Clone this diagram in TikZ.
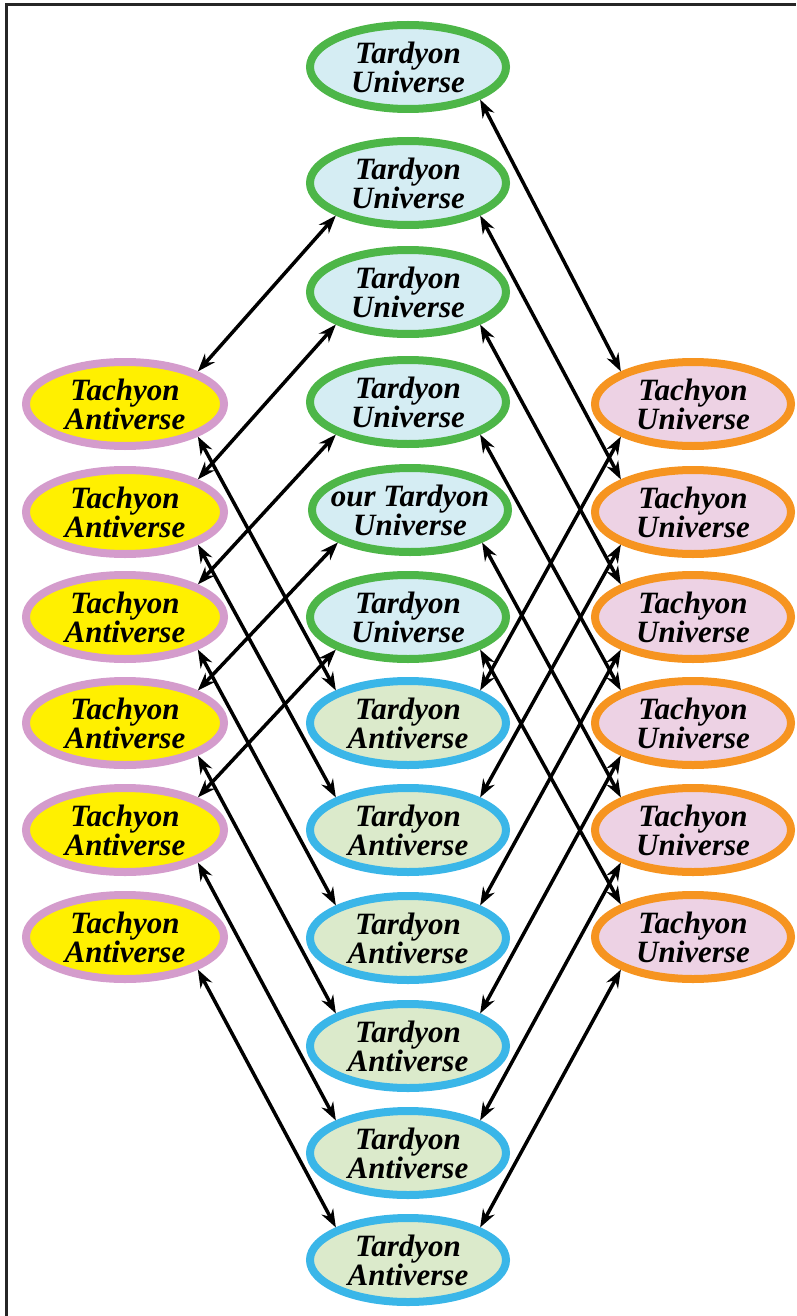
\documentclass[tikz,border=0pt]{standalone}
\usepackage{fontspec}
\setmainfont{Liberation Serif}
\usetikzlibrary{shapes.geometric,arrows.meta}
\definecolor{tgreen}{RGB}{77,182,72}
\definecolor{tlblue}{RGB}{213,237,243}
\definecolor{tblue}{RGB}{58,182,232}
\definecolor{tlgreen}{RGB}{219,234,203}
\definecolor{tpink}{RGB}{212,156,204}
\definecolor{tyellow}{RGB}{255,240,0}
\definecolor{torange}{RGB}{246,148,32}
\definecolor{tlpink}{RGB}{237,210,228}
\tikzset{
  uni/.style={ellipse, line width=8pt, inner sep=0pt, minimum width=196pt, minimum height=84pt,
    align=center, font=\fontsize{31}{26.5}\selectfont\bfseries\itshape},
  tardu/.style={uni, draw=tgreen, fill=tlblue},
  tarda/.style={uni, draw=tblue, fill=tlgreen},
  tacha/.style={uni, draw=tpink, fill=tyellow, minimum width=198pt},
  tachu/.style={uni, draw=torange, fill=tlpink, minimum width=196pt},
  link/.style={line width=3.5pt, {Stealth[length=18pt,width=13pt]}-{Stealth[length=18pt,width=13pt]}},
  frameline/.style={line width=3pt, draw=black!85}
}
\begin{document}
\begin{tikzpicture}[x=1pt,y=1pt]
\useasboundingbox (0,0) rectangle (796,-1316);
\draw[frameline] (6,-1316) -- (6,-5) -- (796,-5);
% centre column
\node[tardu] (c1) at (408,-67) {Tardyon\\Universe};
\node[tardu] (c2) at (408,-183) {Tardyon\\Universe};
\node[tardu] (c3) at (408,-292) {Tardyon\\Universe};
\node[tardu] (c4) at (408,-402) {Tardyon\\Universe};
\node[tardu] (c5) at (410,-510) {\makebox[120pt][c]{our Tardyon}\\Universe};
\node[tardu] (c6) at (408,-617) {Tardyon\\Universe};
\node[tarda] (c7) at (408,-723) {Tardyon\\Antiverse};
\node[tarda] (c8) at (408,-830) {Tardyon\\Antiverse};
\node[tarda] (c9) at (408,-938) {Tardyon\\Antiverse};
\node[tarda] (c10) at (408,-1046) {Tardyon\\Antiverse};
\node[tarda] (c11) at (408,-1153) {Tardyon\\Antiverse};
\node[tarda] (c12) at (408,-1260) {Tardyon\\Antiverse};
% left column
\node[tacha] (l1) at (125,-404) {Tachyon\\Antiverse};
\node[tacha] (l2) at (125,-512) {Tachyon\\Antiverse};
\node[tacha] (l3) at (125,-617) {Tachyon\\Antiverse};
\node[tacha] (l4) at (125,-723) {Tachyon\\Antiverse};
\node[tacha] (l5) at (125,-830) {Tachyon\\Antiverse};
\node[tacha] (l6) at (125,-937) {Tachyon\\Antiverse};
% right column
\node[tachu] (r1) at (693,-404) {Tachyon\\Universe};
\node[tachu] (r2) at (693,-512) {Tachyon\\Universe};
\node[tachu] (r3) at (693,-617) {Tachyon\\Universe};
\node[tachu] (r4) at (693,-723) {Tachyon\\Universe};
\node[tachu] (r5) at (693,-830) {Tachyon\\Universe};
\node[tachu] (r6) at (693,-937) {Tachyon\\Universe};
% left links
\foreach \i/\j in {1/2,2/3,3/4,4/5,5/6}
  \draw[link] (l\i.north east) -- (c\j.south west);
\foreach \i/\j in {1/7,2/8,3/9,4/10,5/11,6/12}
  \draw[link] (l\i.south east) -- (c\j.north west);
% right links
\foreach \i in {1,...,6}
  \draw[link] (c\i.south east) -- (r\i.north west);
\foreach \i/\j in {1/7,2/8,3/9,4/10,5/11,6/12}
  \draw[link] (r\i.south west) -- (c\j.north east);
\end{tikzpicture}
\end{document}
